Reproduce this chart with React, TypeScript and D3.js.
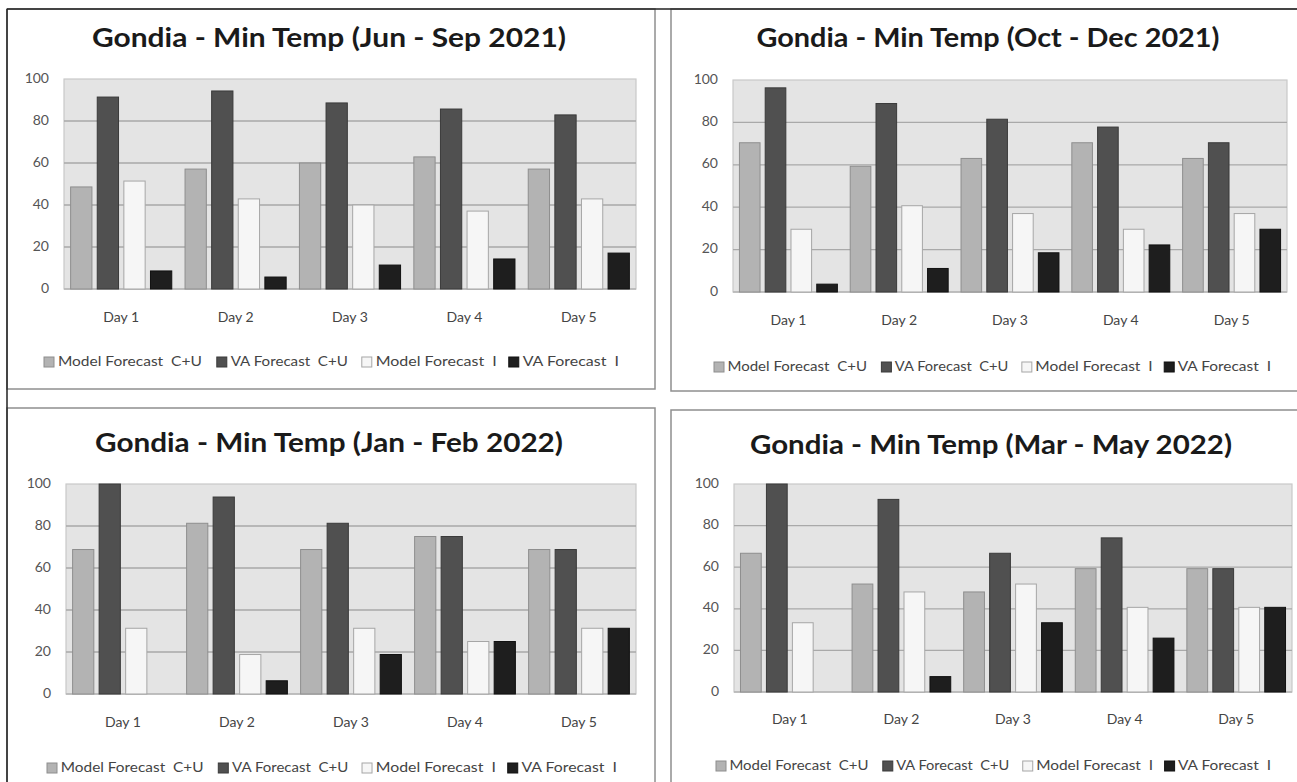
import React from "react";
import * as d3 from "d3";

// Categories and series
const days = ["Day 1", "Day 2", "Day 3", "Day 4", "Day 5"];
const seriesNames = ["Model Forecast  C+U", "VA Forecast  C+U", "Model Forecast  I", "VA Forecast  I"];
const yTicks = [0, 20, 40, 60, 80, 100];

const titles = [
  "Gondia - Min Temp (Jun - Sep 2021)",
  "Gondia - Min Temp (Oct - Dec 2021)",
  "Gondia - Min Temp (Jan - Feb 2022)",
  "Gondia - Min Temp (Mar - May 2022)",
];

// Jun - Sep 2021
const junSepModelCU = [48.6, 57.1, 60.0, 62.9, 57.1];
const junSepVaCU = [91.4, 94.3, 88.6, 85.7, 82.9];
const junSepModelI = [51.4, 42.9, 40.0, 37.1, 42.9];
const junSepVaI = [8.6, 5.7, 11.4, 14.3, 17.1];

// Oct - Dec 2021
const octDecModelCU = [70.4, 59.3, 63.0, 70.4, 63.0];
const octDecVaCU = [96.3, 88.9, 81.5, 77.8, 70.4];
const octDecModelI = [29.6, 40.7, 37.0, 29.6, 37.0];
const octDecVaI = [3.7, 11.1, 18.5, 22.2, 29.6];

// Jan - Feb 2022
const janFebModelCU = [68.8, 81.3, 68.8, 75.0, 68.8];
const janFebVaCU = [100, 93.8, 81.3, 75.0, 68.8];
const janFebModelI = [31.3, 18.8, 31.3, 25.0, 31.3];
const janFebVaI = [0, 6.3, 18.8, 25.0, 31.3];

// Mar - May 2022
const marMayModelCU = [66.7, 51.9, 48.1, 59.3, 59.3];
const marMayVaCU = [100, 92.6, 66.7, 74.1, 59.3];
const marMayModelI = [33.3, 48.1, 51.9, 40.7, 40.7];
const marMayVaI = [0, 7.4, 33.3, 25.9, 40.7];

const panelData = [
  [junSepModelCU, junSepVaCU, junSepModelI, junSepVaI],
  [octDecModelCU, octDecVaCU, octDecModelI, octDecVaI],
  [janFebModelCU, janFebVaCU, janFebModelI, janFebVaI],
  [marMayModelCU, marMayVaCU, marMayModelI, marMayVaI],
];

// Styling per series
const fills = ["#b3b3b3", "#505050", "#f6f6f6", "#1e1e1e"];
const strokes = ["#8e8e8e", "#3a3a3a", "#a6a6a6", "#111111"];

// Layout of each panel on the page
const layouts = [
  { box: [7, 9, 648, 380], plot: [64, 636, 79, 289], titleX: 329, titleW: 474, titleY: 47, dayY: 318, legX: 44, legW: 575, legY: 362 },
  { box: [671, 9, 660, 382], plot: [733, 1287, 80, 292], titleX: 988, titleW: 463, titleY: 47, dayY: 321, legX: 714, legW: 557, legY: 367 },
  { box: [7, 408, 648, 400], plot: [66, 636, 484, 694], titleX: 329, titleW: 468, titleY: 452, dayY: 723, legX: 47, legW: 570, legY: 768 },
  { box: [671, 410, 660, 400], plot: [734, 1292, 484, 692], titleX: 991, titleW: 482, titleY: 454, dayY: 720, legX: 716, legW: 555, legY: 766 },
];

// Relative legend geometry: text widths and spacing between entries
const legendTextW = [145, 118, 122, 97];
const legendGap = [0, 15, 14, 12];
const SW = 10; // swatch size
const SWGAP = 4;

const FONT = "Lato, 'Open Sans', 'DejaVu Sans', sans-serif";

function Panel({ idx }: { idx: number }) {
  const L = layouts[idx];
  const data = panelData[idx];
  const [pl, pr, pt, pb] = L.plot;

  const x0 = d3.scaleBand<string>().domain(days).range([pl, pr]).padding(0);
  const pad = x0.bandwidth() * 0.058;
  const x1 = d3
    .scaleBand<number>()
    .domain(d3.range(seriesNames.length))
    .range([pad, x0.bandwidth() - pad])
    .paddingInner(0.2)
    .paddingOuter(0);
  const y = d3.scaleLinear().domain([0, 100]).range([pb, pt]);

  // legend entries laid out across the given width
  const baseTotal = d3.sum(legendTextW) + d3.sum(legendGap) + 4 * (SW + SWGAP);
  const k = L.legW / baseTotal;
  let cursor = L.legX;
  const legendItems = seriesNames.map((name, i) => {
    cursor += legendGap[i] * k;
    const sx = cursor;
    cursor += (SW + SWGAP) * k;
    const tx = cursor;
    const tw = legendTextW[i] * k;
    cursor += tw;
    return { name, sx, tx, tw, i };
  });

  const [bx, by, bw, bh] = L.box;

  return (
    <g>
      <rect x={bx} y={by} width={bw} height={bh} fill="#ffffff" stroke="#8f8f8f" strokeWidth={1.5} />
      <text
        x={L.titleX}
        y={L.titleY}
        textAnchor="middle"
        fontFamily={FONT}
        fontWeight={700}
        fontSize={27}
        fill="#1a1a1a"
        textLength={L.titleW}
        lengthAdjust="spacingAndGlyphs"
      >
        {titles[idx]}
      </text>

      {/* plot background */}
      <rect x={pl} y={pt} width={pr - pl} height={pb - pt} fill="#e4e4e4" stroke="#c9c9c9" strokeWidth={1.2} />
      {yTicks.map((t) => (
        <g key={t}>
          {t > 0 && t < 100 && (
            <line x1={pl} x2={pr} y1={y(t)} y2={y(t)} stroke="#a9a9a9" strokeWidth={1.3} />
          )}
          <text
            x={pl - 15}
            y={y(t)}
            textAnchor="end"
            dominantBaseline="middle"
            fontFamily={FONT}
            fontSize={14}
            fill="#555"
          >
            {t}
          </text>
        </g>
      ))}
      <line x1={pl} x2={pr} y1={pb} y2={pb} stroke="#b5b5b5" strokeWidth={1.3} />

      {/* bars */}
      {days.map((d, di) =>
        data.map((vals, si) => {
          const v = vals[di];
          const bx0 = (x0(d) as number) + (x1(si) as number);
          return (
            <rect
              key={d + si}
              x={bx0}
              y={y(v)}
              width={x1.bandwidth()}
              height={pb - y(v)}
              fill={fills[si]}
              stroke={strokes[si]}
              strokeWidth={1}
            />
          );
        })
      )}

      {/* category labels */}
      {days.map((d) => (
        <text
          key={d}
          x={(x0(d) as number) + x0.bandwidth() / 2}
          y={L.dayY}
          textAnchor="middle"
          dominantBaseline="middle"
          fontFamily={FONT}
          fontSize={14}
          fill="#444"
        >
          {d}
        </text>
      ))}

      {/* legend */}
      {legendItems.map((it) => (
        <g key={it.name}>
          <rect
            x={it.sx}
            y={L.legY - SW / 2}
            width={SW}
            height={SW}
            fill={fills[it.i]}
            stroke={strokes[it.i]}
            strokeWidth={1}
          />
          <text
            x={it.tx}
            y={L.legY}
            dominantBaseline="middle"
            fontFamily={FONT}
            fontSize={14}
            fill="#444"
            textLength={it.tw}
            lengthAdjust="spacingAndGlyphs"
            style={{ whiteSpace: "pre" }}
          >
            {it.name}
          </text>
        </g>
      ))}
    </g>
  );
}

export default function App() {
  return (
    <svg
      width={1297}
      height={782}
      style={{ position: "absolute", left: 0, top: 0, background: "#ffffff" }}
    >
      <rect x={0} y={0} width={1297} height={782} fill="#ffffff" />
      {layouts.map((_, i) => (
        <Panel key={i} idx={i} />
      ))}
      {/* frame lines across the top and left */}
      <line x1={7} x2={1297} y1={9} y2={9} stroke="#222" strokeWidth={1.5} />
      <line x1={7} x2={7} y1={9} y2={782} stroke="#222" strokeWidth={1.5} />
    </svg>
  );
}
